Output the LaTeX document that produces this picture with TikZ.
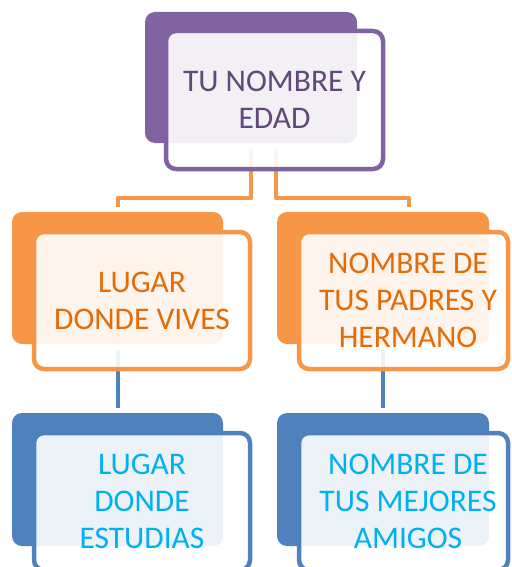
\documentclass[tikz,border=0pt]{standalone}
\usepackage{fontspec}
\setmainfont{Carlito}
\definecolor{purp}{HTML}{8064A2}
\definecolor{purptxt}{HTML}{5F497A}
\definecolor{orng}{HTML}{F79646}
\definecolor{orngtxt}{HTML}{E36C09}
\definecolor{blu}{HTML}{4F81BD}
\definecolor{blutxt}{HTML}{00B0F0}
\tikzset{
  backbox/.style={fill=#1, draw=none, rounded corners=10pt, inner sep=0pt},
  frontbox/.style={draw=#1, line width=4.5pt, fill=white, fill opacity=0.9, text opacity=1,
    rounded corners=10pt, inner sep=0pt, align=center,
    font=\fontsize{31.5}{37}\selectfont},
  boxtext/.style={inner sep=0pt, align=center, font=\fontsize{31.5}{37}\selectfont},
  conn/.style={draw=#1, line width=4.5pt, line join=round},
}
\begin{document}
\begin{tikzpicture}[x=1pt,y=-1pt]
\useasboundingbox (0,0) rectangle (511,567);
\clip (0,0) rectangle (511,567);
% back boxes
\node[backbox=purp, minimum width=212pt, minimum height=131pt] (pb) at (251,77.5) {};
\node[backbox=orng, minimum width=211pt, minimum height=132pt] (olb) at (117.5,278) {};
\node[backbox=orng, minimum width=212pt, minimum height=132pt] (orb) at (383,278) {};
\node[backbox=blu, minimum width=211pt, minimum height=133pt] (blb) at (117.5,479.5) {};
\node[backbox=blu, minimum width=212pt, minimum height=133pt] (brb) at (383,479.5) {};
% connectors
\coordinate (c1) at (251,149);
\coordinate (c2) at (276,149);
\coordinate (cl) at (118,207);
\coordinate (cr) at (409,207);
\draw[conn=orng] (c1) -- (251,198) -- (118,198) -- (cl);
\draw[conn=orng] (c2) -- (276,198) -- (409,198) -- (cr);
\coordinate (d1) at (118,350);
\coordinate (d1e) at (118,408);
\coordinate (d2) at (383,350);
\coordinate (d2e) at (383,408);
\draw[conn=blu] (d1) -- (d1e);
\draw[conn=blu] (d2) -- (d2e);
% front boxes with text
\node[frontbox=purp, text=purptxt, minimum width=217pt, minimum height=138pt] (pf) at (274.5,100) {TU NOMBRE Y\\EDAD};
\node[frontbox=orng, text=orngtxt, minimum width=216pt, minimum height=137pt] (olf) at (142,300.5) {LUGAR\\DONDE VIVES};
\node[frontbox=orng, minimum width=209pt, minimum height=137pt] (orf) at (403.5,300.5) {};
\node[boxtext, text=orngtxt] (ort) at (408,300.5) {NOMBRE DE\\TUS PADRES Y\\HERMANO};
\node[frontbox=blu, text=blutxt, minimum width=216pt, minimum height=137pt] (blf) at (142,501.5) {LUGAR\\DONDE\\ESTUDIAS};
\node[frontbox=blu, minimum width=209pt, minimum height=137pt] (brf) at (403.5,501.5) {};
\node[boxtext, text=blutxt] (brt) at (408,501.5) {NOMBRE DE\\TUS MEJORES\\AMIGOS};
\end{tikzpicture}
\end{document}
